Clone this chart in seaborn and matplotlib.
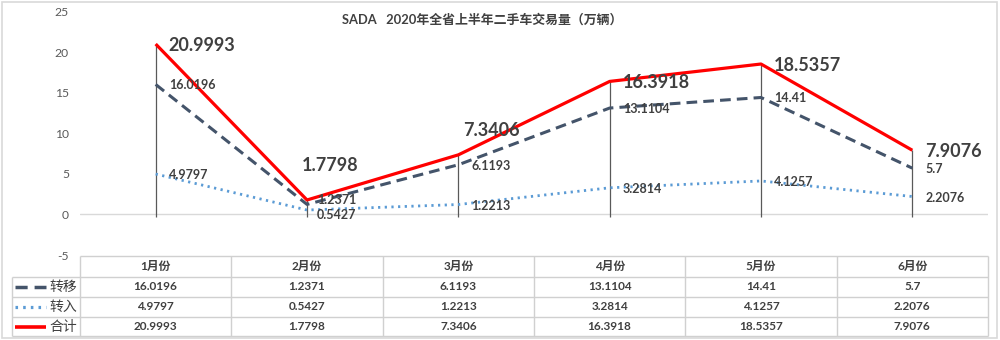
import matplotlib
matplotlib.use("Agg")
import matplotlib.pyplot as plt
import seaborn as sns
import pandas as pd

# ---- data -------------------------------------------------------------
months = ["1月份", "2月份", "3月份", "4月份", "5月份", "6月份"]
transfer = [16.0196, 1.2371, 6.1193, 13.1104, 14.41, 5.7]      # 转移
inbound = [4.9797, 0.5427, 1.2213, 3.2814, 4.1257, 2.2076]      # 转入
total = [20.9993, 1.7798, 7.3406, 16.3918, 18.5357, 7.9076]     # 合计
series_names = ["转移", "转入", "合计"]
title = "SADA   2020年全省上半年二手车交易量（万辆）"
y_ticks = [-5, 0, 5, 10, 15, 20, 25]

# ---- styling ----------------------------------------------------------
sns.set_theme(style="white")
plt.rcParams["font.family"] = ["Lato", "Noto Sans CJK SC", "DejaVu Sans"]
TXT = "#404040"
GRID = "#d9d9d9"
C_TRANSFER = "#44546a"
C_IN = "#5b9bd5"
C_TOTAL = "#ff0000"

styles = {
    "转移": dict(color=C_TRANSFER, lw=2.2, dashes=(3.5, 2.0), dash_capstyle="butt"),
    "转入": dict(color=C_IN, lw=2.0, dashes=(0.8, 1.6), dash_capstyle="butt"),
    "合计": dict(color=C_TOTAL, lw=2.3, solid_capstyle="butt"),
}

fig = plt.figure(figsize=(10, 3.4), dpi=100)
ax = fig.add_axes([0.08, 0.25, 0.908, 0.716])
ax.set_facecolor("none")

x = list(range(len(months)))
df = pd.DataFrame({"pos": x, "转移": transfer, "转入": inbound, "合计": total})

# drop lines from the highest series down to the category axis
ax.vlines(df["pos"], -0.35, df["合计"], color="#595959", lw=0.9, zorder=1)
ax.axhline(0, color=GRID, lw=1.0, zorder=0.5)

for name in series_names:
    st = styles[name]
    line_kw = {k: v for k, v in st.items() if k not in ("color", "lw")}
    sns.lineplot(data=df, x="pos", y=name, ax=ax, color=st["color"],
                 linewidth=st["lw"], zorder=3, **line_kw)

ax.set_xlim(-0.5, 5.5)
ax.set_ylim(-5, 25)
ax.set_yticks(y_ticks)
ax.set_yticklabels([str(v) for v in y_ticks], fontsize=8.7, color="#595959",
                   family=["Lato", "DejaVu Sans"])
ax.tick_params(axis="y", length=0, pad=8)
ax.set_xticks([])
ax.set_xlabel("")
ax.set_ylabel("")
for sp in ax.spines.values():
    sp.set_visible(False)

# value labels
label_offsets = {("合计", 1): (-5, 34), ("合计", 2): (5, 24),
                 ("转移", 1): (10, 4), ("转入", 1): (10, -5)}
label_size = {"转移": 9, "转入": 9, "合计": 13}
for name in series_names:
    for i, v in enumerate(df[name]):
        dx, dy = label_offsets.get((name, i), (13, -1))
        ax.annotate(f"{v:g}", (i, v), xytext=(dx, dy), textcoords="offset pixels",
                    ha="left", va="center", fontsize=label_size[name],
                    fontweight="bold", color=TXT, zorder=5)

# title
fig.text(0.482, 1 - 19 / 340, title, ha="center", va="center", fontsize=9.3,
         fontweight="bold", color=TXT)

# ---- data table under the plot ----------------------------------------
tab = fig.add_axes([0, 0, 1, 1])
tab.set_xlim(0, 1000)
tab.set_ylim(340, 0)
tab.axis("off")
tab.set_facecolor("none")

left, first, right = 12, 80, 988
rows_y = [256, 277, 297, 317, 336]
col_w = (right - first) / len(months)
col_x = [first + i * col_w for i in range(len(months) + 1)]
TAB_LINE = "#d0d0d0"

tab.hlines(rows_y[0], first, right, color=TAB_LINE, lw=1)
tab.hlines(rows_y[1:], left, right, color=TAB_LINE, lw=1)
tab.vlines(left, rows_y[1], rows_y[-1], color=TAB_LINE, lw=1)
tab.vlines(col_x, rows_y[0], rows_y[-1], color=TAB_LINE, lw=1)

row_centers = [(rows_y[i] + rows_y[i + 1]) / 2 for i in range(4)]
for j, m in enumerate(months):
    cx = (col_x[j] + col_x[j + 1]) / 2
    tab.text(cx, row_centers[0], m, ha="center", va="center", fontsize=8.5,
             fontweight="bold", color=TXT)
    for r, name in enumerate(series_names):
        tab.text(cx, row_centers[r + 1], f"{df[name][j]:g}", ha="center",
                 va="center", fontsize=8.5, fontweight="bold", color=TXT)

for r, name in enumerate(series_names):
    st = styles[name]
    line_kw = {k: v for k, v in st.items() if k not in ("color", "lw")}
    yc = row_centers[r + 1]
    tab.plot([15, 46], [yc, yc], color=st["color"], lw=st["lw"] + 0.3, **line_kw)
    tab.text(77, yc, name, ha="right", va="center", fontsize=10,
             color=TXT, family=["Noto Sans CJK SC"])

# outer frame
tab.add_patch(plt.Rectangle((2, 2), 995, 336, fill=False, ec=GRID, lw=1.2))

fig.savefig("out.png", dpi=100)
